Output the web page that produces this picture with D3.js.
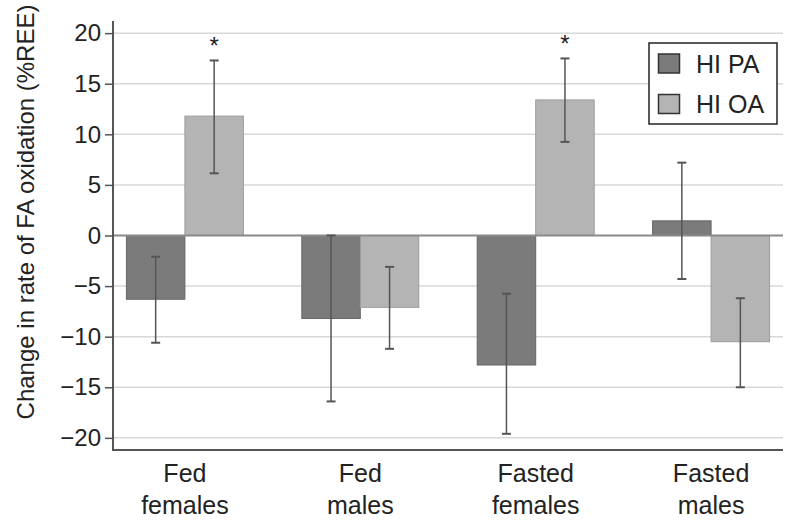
<!DOCTYPE html>
<html>
<head>
<meta charset="utf-8">
<script src="https://cdn.jsdelivr.net/npm/d3@7"></script>
<style>
  body { margin: 0; background: #fff; }
  svg text { font-family: "Liberation Sans", Arial, Helvetica, sans-serif; fill: #222; }
</style>
</head>
<body>
<svg id="chart" width="800" height="529"></svg>
<script>
const categories = [["Fed", "females"], ["Fed", "males"], ["Fasted", "females"], ["Fasted", "males"]];
const seriesNames = ["HI PA", "HI OA"];
const paValues = [-6.3, -8.2, -12.8, 1.45];
const paErrLow = [-10.6, -16.4, -19.6, -4.3];
const paErrHigh = [-2.1, 0.0, -5.75, 7.2];
const oaValues = [11.8, -7.1, 13.4, -10.5];
const oaErrLow = [6.15, -11.2, 9.25, -15.0];
const oaErrHigh = [17.3, -3.1, 17.5, -6.2];
const significant = [[false, true], [false, false], [false, true], [false, false]];
const yTicks = [-20, -15, -10, -5, 0, 5, 10, 15, 20];

const colors = ["#7b7b7b", "#b4b4b4"];
const strokes = ["#666", "#9c9c9c"];

const svg = d3.select("#chart");
const mLeft = 113, mRight = 783, mTop = 21, mBottom = 450;

const y = d3.scaleLinear().domain([-21.2, 21.2]).range([mBottom, mTop]);
const x = d3.scalePoint().domain(d3.range(categories.length)).range([mLeft, mRight]).padding(0.41);
const barW = 58.5;

// gridlines
svg.append("g").selectAll("line").data(yTicks.filter(d => d !== 0)).join("line")
  .attr("x1", mLeft).attr("x2", mRight)
  .attr("y1", d => y(d)).attr("y2", d => y(d))
  .attr("stroke", "#d8d8d8").attr("stroke-width", 1.5);

const series = [
  { name: seriesNames[0], vals: paValues, lo: paErrLow, hi: paErrHigh },
  { name: seriesNames[1], vals: oaValues, lo: oaErrLow, hi: oaErrHigh }
];

// bars
series.forEach((s, si) => {
  svg.append("g").selectAll("rect").data(s.vals).join("rect")
    .attr("x", (d, i) => x(i) + (si === 0 ? -barW : 0))
    .attr("width", barW)
    .attr("y", d => Math.min(y(d), y(0)))
    .attr("height", d => Math.abs(y(d) - y(0)))
    .attr("fill", colors[si])
    .attr("stroke", strokes[si]).attr("stroke-width", 1);
});

// zero line
svg.append("line").attr("x1", mLeft).attr("x2", mRight)
  .attr("y1", y(0)).attr("y2", y(0))
  .attr("stroke", "#8a8a8a").attr("stroke-width", 2);

// error bars
series.forEach((s, si) => {
  const g = svg.append("g");
  s.vals.forEach((v, i) => {
    const cx = x(i) + (si === 0 ? -barW / 2 : barW / 2);
    g.append("line").attr("x1", cx).attr("x2", cx)
      .attr("y1", y(s.lo[i])).attr("y2", y(s.hi[i]))
      .attr("stroke", "#555").attr("stroke-width", 1.5);
    [s.lo[i], s.hi[i]].forEach(e => {
      g.append("line").attr("x1", cx - 4.5).attr("x2", cx + 4.5)
        .attr("y1", y(e)).attr("y2", y(e))
        .attr("stroke", "#555").attr("stroke-width", 2);
    });
    if (significant[i][si]) {
      g.append("text").attr("x", cx).attr("y", y(s.hi[i]) - 6)
        .attr("text-anchor", "middle").attr("font-size", 24).text("*");
    }
  });
});

// y axis
const yAxis = d3.axisLeft(y).tickValues(yTicks).tickSize(8).tickPadding(4)
  .tickFormat(d => d < 0 ? "\u2212" + Math.abs(d) : String(d));
const ya = svg.append("g").attr("transform", `translate(${mLeft},0)`).call(yAxis);
ya.select(".domain").attr("stroke", "#555").attr("stroke-width", 2).attr("d", `M-0,${mTop}V${mBottom}`);
ya.selectAll(".tick line").attr("stroke", "#555").attr("stroke-width", 1.5);
ya.selectAll(".tick text").attr("font-size", 24).attr("fill", "#222")
  .attr("font-family", '"Liberation Sans", Arial, sans-serif');

// bottom axis line
svg.append("line").attr("x1", mLeft - 1).attr("x2", mRight)
  .attr("y1", mBottom).attr("y2", mBottom)
  .attr("stroke", "#555").attr("stroke-width", 2);

// category labels
const cl = svg.append("g");
categories.forEach((c, i) => {
  const t = cl.append("text").attr("text-anchor", "middle").attr("font-size", 25);
  c.forEach((line, li) => {
    t.append("tspan").attr("x", x(i)).attr("y", 482 + li * 32).text(line);
  });
});

// y title
svg.append("text")
  .attr("transform", `translate(34, 212) rotate(-90)`)
  .attr("text-anchor", "middle").attr("font-size", 24)
  .text("Change in rate of FA oxidation (%REE)");

// legend
const lg = svg.append("g").attr("transform", "translate(649,43)");
lg.append("rect").attr("width", 128).attr("height", 81)
  .attr("fill", "#fff").attr("stroke", "#222").attr("stroke-width", 1.5);
seriesNames.forEach((n, i) => {
  lg.append("rect").attr("x", 9.5).attr("y", 11 + i * 40.5).attr("width", 21).attr("height", 19)
    .attr("fill", colors[i]).attr("stroke", "#333").attr("stroke-width", 1.5);
  lg.append("text").attr("x", 47).attr("y", 30 + i * 40).attr("font-size", 25).text(n);
});
</script>
</body>
</html>
